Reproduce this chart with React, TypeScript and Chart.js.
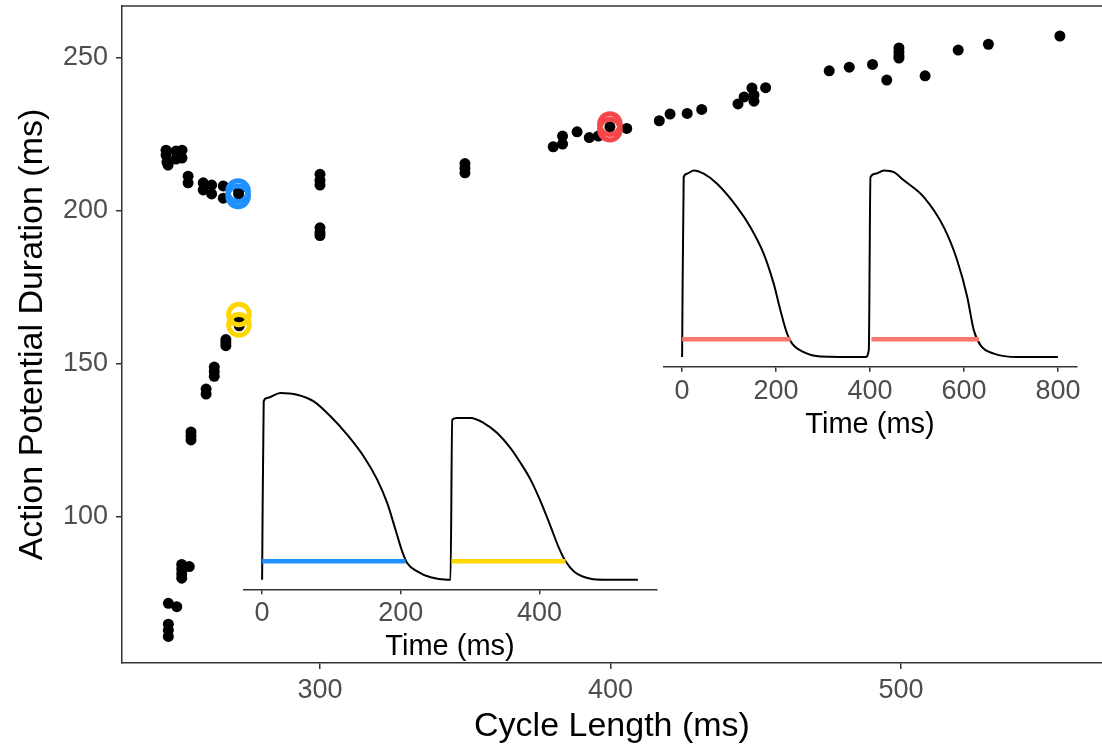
import React, { useEffect, useRef } from "react";
import { Chart, registerables } from "chart.js";

Chart.register(...registerables);

const FONT = "'Liberation Sans', Arial, Helvetica, sans-serif";

// ---------- main scatter: cycle length (ms) vs action potential duration (ms)
const cycleLength = [
  247.0, 247.0, 247.3, 247.7, 250.4, 250.4, 252.5, 252.5,
  254.6, 254.6, 259.8, 259.8, 262.7, 262.7, 266.7, 266.7, 272.0, 272.0,
  300, 300, 300, 300, 300, 300,
  349.9, 349.9, 349.9,
  272.2, 272.2, 272.2,
  267.6, 267.6, 267.6, 263.6, 263.6, 263.6, 260.8, 260.8,
  255.6, 255.6, 255.6,
  252.4, 252.4, 252.4, 252.4, 255.0,
  247.8, 250.7, 247.8, 247.8, 247.8,
  380.3, 383.5, 383.5, 388.5, 392.7, 395.8, 399.8, 405.6, 416.8, 420.5,
  426.4, 431.4, 443.9, 446.0, 448.7, 449.4, 449.4, 453.4, 475.3, 482.2,
  490.2, 495.1, 499.3, 499.3, 499.3, 499.3, 508.3, 519.7, 530.1, 554.7,
];
const actionPotentialDuration = [
  219.9, 218.3, 216.0, 215.0, 219.6, 217.0, 219.9, 217.3,
  211.4, 209.2, 209.2, 206.9, 208.5, 205.6, 208.2, 204.2, 206.5, 205.5,
  212, 210, 208.5, 194.5, 193, 192,
  215.5, 214, 212.5,
  164.5, 163.5, 162.5,
  158, 157, 156, 149, 147.5, 146, 141.8, 140.2,
  127.8, 126.5, 125.2,
  84.5, 83, 81.5, 80, 83.8,
  71.8, 70.7, 65, 63, 61,
  221.0, 224.5, 221.9, 225.9, 224.0, 224.5, 227.5, 227.0, 229.5, 231.7,
  231.9, 233.2, 235.0, 237.3, 240.2, 237.9, 235.9, 240.3, 245.8, 247.0,
  247.9, 242.8, 253.3, 252.0, 250.8, 250.0, 244.2, 252.6, 254.5, 257.2,
];

const blueRingCL = [271.8, 271.8];
const blueRingAPD = [206.5, 204.8];
const yellowRingCL = [272.1, 272.1];
const yellowRingAPD = [166.2, 162.8];
const redRingCL = [399.8, 399.8];
const redRingAPD = [228.4, 226.6];

const mainXTicks = [300, 400, 500];
const mainYTicks = [100, 150, 200, 250];

// ---------- inset 1 (short cycle length, alternans)
const inset1Time = [
  0, 2.3, 7.2, 26.4, 50.5, 74.4, 98.5, 122.6, 146.5, 165.9, 180.3, 192.3,
  201.9, 209.1, 223.6, 242.8, 266.8,
  271.6, 274, 281.3, 300.4, 319.6, 338.9, 358.1, 372.6, 387, 401.4, 415.8,
  427.8, 437.5, 449.5, 473.5, 492.7, 541.7,
];
const inset1Voltage = [
  -85, 29.6, 31.8, 35, 33.9, 29.6, 20, 8.2, -5.8, -20.7, -35.7, -52.9,
  -66.8, -74.3, -79.7, -83.5, -85,
  -85, 17.8, 18.9, 18.9, 15.7, 9.3, -0.4, -10, -20.7, -34.7, -50.7,
  -64.6, -73.2, -79.7, -84.4, -85, -85,
];
const inset1BlueBarTime = [0, 206.7];
const inset1YellowBarTime = [273, 437.5];
const inset1BarLevel = -73.2;
const inset1Ticks = [0, 200, 400];

// ---------- inset 2 (long cycle length)
const inset2Time = [
  0, 3.4, 10.6, 24.7, 46, 74.5, 117, 145.5, 173.8, 195, 209.4, 223.6, 234.3,
  259, 294.6, 390.4,
  397.4, 401, 411.7, 429.4, 450.7, 472, 514.6, 557, 585.7, 607, 621, 635.4,
  663.7, 713.5, 800,
];
const inset2Voltage = [
  -85, 30.7, 32.9, 35, 32.9, 26.4, 11.4, -1.5, -18.6, -37.8, -55, -70, -76.4,
  -81.8, -84.6, -85,
  -80.7, 30.7, 32.9, 35, 33.9, 28.6, 17.8, -1.5, -22.9, -46.4, -67.8, -77.5,
  -82.8, -85, -85,
];
const inset2BarTimes1 = [0, 231];
const inset2BarTimes2 = [403, 632];
const inset2BarLevel = -73.6;
const inset2Ticks = [0, 200, 400, 600, 800];

const pts = (xs: number[], ys: number[]) => xs.map((x, i) => ({ x, y: ys[i] }));
const flat = (xs: number[], level: number) => xs.map((x) => ({ x, y: level }));

const AXIS = "#333333";
const TICKTXT = "#4d4d4d";

const zeroPad = (s: any) => {
  s.paddingTop = 0;
  s.paddingBottom = 0;
  s.paddingLeft = 0;
  s.paddingRight = 0;
};

const topBorder = {
  id: "topBorder",
  afterDraw(chart: any) {
    const { ctx, chartArea } = chart;
    ctx.save();
    ctx.strokeStyle = AXIS;
    ctx.lineWidth = 1.5;
    ctx.beginPath();
    ctx.moveTo(chartArea.left, chartArea.top);
    ctx.lineTo(chartArea.right, chartArea.top);
    ctx.stroke();
    ctx.restore();
  },
};

function mainConfig(): any {
  const ring = (xs: number[], ys: number[], color: string) => ({
    data: pts(xs, ys),
    pointRadius: 10.3,
    pointBorderWidth: 5,
    pointBackgroundColor: "rgba(0,0,0,0)",
    pointBorderColor: color,
    order: 0,
  });
  return {
    type: "scatter",
    data: {
      datasets: [
        ring(blueRingCL, blueRingAPD, "#1E90FF"),
        ring(yellowRingCL, yellowRingAPD, "#FFD700"),
        ring(redRingCL, redRingAPD, "#F5474A"),
        {
          data: pts(cycleLength, actionPotentialDuration),
          pointRadius: 5.5,
          pointBorderWidth: 0,
          pointBackgroundColor: "#000",
          pointBorderColor: "#000",
          order: 1,
        },
      ],
    },
    options: {
      responsive: false,
      animation: false,
      devicePixelRatio: 1,
      events: [],
      layout: { autoPadding: false, padding: { top: 6, left: 0, right: 0, bottom: 0 } },
      plugins: { legend: { display: false }, tooltip: { enabled: false } },
      scales: {
        x: {
          type: "linear",
          min: 231.84,
          max: 569.2,
          afterBuildTicks: (s: any) => {
            s.ticks = mainXTicks.map((v) => ({ value: v }));
          },
          afterFit: (s: any) => {
            s.height = 90;
            zeroPad(s);
          },
          grid: { display: true, drawOnChartArea: false, drawTicks: true, tickLength: 6, color: AXIS, lineWidth: 1.5 },
          border: { display: true, color: AXIS, width: 1.5 },
          ticks: { font: { family: FONT, size: 27 }, color: TICKTXT, padding: 5, maxRotation: 0 },
          title: {
            display: true,
            text: "Cycle Length (ms)",
            font: { family: FONT, size: 34 },
            color: "#000",
            padding: { top: 0, bottom: 6 },
          },
        },
        y: {
          type: "linear",
          min: 52.3,
          max: 267,
          afterBuildTicks: (s: any) => {
            s.ticks = mainYTicks.map((v) => ({ value: v }));
          },
          afterFit: (s: any) => {
            s.width = 122;
            zeroPad(s);
          },
          grid: { display: true, drawOnChartArea: false, drawTicks: true, tickLength: 6, color: AXIS, lineWidth: 1.5 },
          border: { display: true, color: AXIS, width: 1.5 },
          ticks: { font: { family: FONT, size: 27 }, color: TICKTXT, padding: 8 },
          title: {
            display: true,
            text: "Action Potential Duration (ms)",
            font: { family: FONT, size: 34 },
            color: "#000",
            padding: { top: 12, bottom: 0 },
          },
        },
      },
    },
    plugins: [topBorder],
  };
}

function insetConfig(p: {
  time: number[];
  volt: number[];
  bars: { xs: number[]; level: number; color: string }[];
  ticks: number[];
  xmin: number;
  xmax: number;
  pad: { left: number; right: number; top: number };
  axisHeight: number;
  titlePad: number;
}): any {
  return {
    type: "line",
    data: {
      datasets: [
        {
          data: pts(p.time, p.volt),
          borderColor: "#000",
          borderWidth: 2,
          pointRadius: 0,
          cubicInterpolationMode: "monotone",
          order: 1,
        },
        ...p.bars.map((b) => ({
          data: flat(b.xs, b.level),
          borderColor: b.color,
          borderWidth: 4.5,
          pointRadius: 0,
          borderCapStyle: "butt",
          order: 0,
        })),
      ],
    },
    options: {
      responsive: false,
      animation: false,
      devicePixelRatio: 1,
      events: [],
      layout: { autoPadding: false, padding: { ...p.pad, bottom: 0 } },
      plugins: { legend: { display: false }, tooltip: { enabled: false } },
      scales: {
        x: {
          type: "linear",
          min: p.xmin,
          max: p.xmax,
          afterBuildTicks: (s: any) => {
            s.ticks = p.ticks.map((v) => ({ value: v }));
          },
          afterFit: (s: any) => {
            s.height = p.axisHeight;
            zeroPad(s);
          },
          grid: { display: true, drawOnChartArea: false, drawTicks: true, tickLength: 5, color: AXIS, lineWidth: 1.5 },
          border: { display: true, color: AXIS, width: 1.5 },
          ticks: { font: { family: FONT, size: 27 }, color: TICKTXT, padding: 3.5, maxRotation: 0 },
          title: {
            display: true,
            text: "Time (ms)",
            font: { family: FONT, size: 29 },
            color: "#000",
            padding: { top: 0, bottom: p.titlePad },
          },
        },
        y: { type: "linear", min: -91.2, max: 40, display: false },
      },
    },
  };
}

function ChartBox(props: { left: number; top: number; width: number; height: number; make: () => any }) {
  const ref = useRef<HTMLCanvasElement>(null);
  useEffect(() => {
    const chart = new Chart(ref.current as HTMLCanvasElement, props.make());
    return () => chart.destroy();
  }, []);
  return (
    <canvas
      ref={ref}
      width={props.width}
      height={props.height}
      style={{ position: "absolute", left: props.left, top: props.top, width: props.width, height: props.height }}
    />
  );
}

export default function App() {
  return (
    <div style={{ position: "fixed", left: 0, top: 0, width: 1102, height: 753, background: "#fff", overflow: "hidden" }}>
      <ChartBox left={0} top={0} width={1102} height={753} make={mainConfig} />
      <ChartBox
        left={230}
        top={370}
        width={440}
        height={300}
        make={() =>
          insetConfig({
            time: inset1Time,
            volt: inset1Voltage,
            bars: [
              { xs: inset1BlueBarTime, level: inset1BarLevel, color: "#1E90FF" },
              { xs: inset1YellowBarTime, level: inset1BarLevel, color: "#FFD700" },
            ],
            ticks: inset1Ticks,
            xmin: -27.1,
            xmax: 568.8,
            pad: { left: 13.3, right: 13.3, top: 15.2 },
            axisHeight: 80.7,
            titlePad: 5.9,
          })
        }
      />
      <ChartBox
        left={650}
        top={150}
        width={452}
        height={300}
        make={() =>
          insetConfig({
            time: inset2Time,
            volt: inset2Voltage,
            bars: [
              { xs: inset2BarTimes1, level: inset2BarLevel, color: "#F8766D" },
              { xs: inset2BarTimes2, level: inset2BarLevel, color: "#F8766D" },
            ],
            ticks: inset2Ticks,
            xmin: -40,
            xmax: 840,
            pad: { left: 13.3, right: 25.3, top: 12.6 },
            axisHeight: 83.3,
            titlePad: 7.6,
          })
        }
      />
    </div>
  );
}
